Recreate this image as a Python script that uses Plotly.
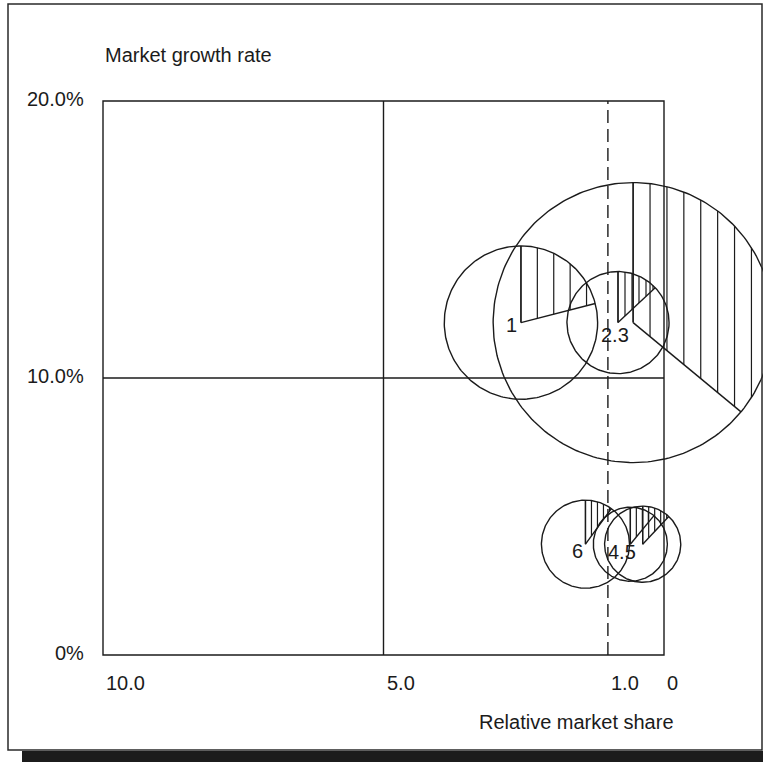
import numpy as np
import plotly.graph_objects as go

# ---------------- data ----------------
products = ["1", "2", "3", "4", "5", "6"]
relative_share = [2.55, 0.82, 0.55, 0.60, 0.38, 1.40]   # x (reversed axis)
market_growth = [12.0, 12.0, 12.0, 4.0, 4.0, 4.0]       # y, %
sales = [30.0, 13.3, 100.0, 7.0, 7.4, 9.9]              # bubble area
hatched_share = [0.21, 0.13, 0.36, 0.11, 0.12, 0.10]    # hatched slice of each bubble

x_ticks = [10.0, 5.0, 1.0, 0.0]
x_tick_text = ["10.0", "5.0", "1.0", "0"]
y_ticks = [20.0, 10.0, 0.0]
y_tick_text = ["20.0%", "10.0%", "0%"]

bubble_labels = ["1", "2.3", "4.5", "6"]
label_product = [0, 1, 3, 5]

# ---------------- styles ----------------
W, H = 763, 762
PLOT_L, PLOT_R, PLOT_T, PLOT_B = 103, 664, 101, 655
X_MAX, X_MIN = 10.0, 0.0
Y_MIN, Y_MAX = 0.0, 20.0
PX_X = (PLOT_R - PLOT_L) / (X_MAX - X_MIN)
PX_Y = (PLOT_B - PLOT_T) / (Y_MAX - Y_MIN)
# axis ranges spanning the full figure so bubbles are not clipped at the frame
X_RANGE = [X_MAX + PLOT_L / PX_X, X_MIN - (W - PLOT_R) / PX_X]
Y_RANGE = [Y_MIN - (H - PLOT_B) / PX_Y, Y_MAX + PLOT_T / PX_Y]

RADIUS_PER_SQRT = 14.0                      # px of radius per sqrt(sales)
hatch_spacing = [16.4, 7.0, 16.9, 6.0, 6.0, 6.0]
label_offsets = [(-9, -2), (-3, -12), (-8, -8), (-8, -7)]

INK = "#1b1b1b"
FONT = "Liberation Sans, Arial, Helvetica, sans-serif"
FS = 20
LW = 1.4


def to_data(cx, cy, dx, dy):
    """pixel offset (dx right, dy up) from a data point -> data coordinates"""
    return cx - dx / PX_X, cy + dy / PX_Y


fig = go.Figure()

circ_x, circ_y, edge_x, edge_y, hat_x, hat_y = [], [], [], [], [], []
t = np.linspace(0, 2 * np.pi, 241)
for cx, cy, s, frac, sp in zip(relative_share, market_growth, sales,
                               hatched_share, hatch_spacing):
    r = RADIUS_PER_SQRT * np.sqrt(s)
    xs, ys = to_data(cx, cy, r * np.cos(t), r * np.sin(t))
    circ_x += list(xs) + [None]
    circ_y += list(ys) + [None]

    th = 2 * np.pi * frac
    # slice edges: 12 o'clock radius and the clockwise closing radius
    for dx, dy in [(0.0, r), (r * np.sin(th), r * np.cos(th))]:
        x0, y0 = to_data(cx, cy, 0, 0)
        x1, y1 = to_data(cx, cy, dx, dy)
        edge_x += [x0, x1, None]
        edge_y += [y0, y1, None]

    # vertical hatching inside the slice
    cot = np.cos(th) / np.sin(th)
    for dx in np.arange(0.0, r, sp):
        top = np.sqrt(r * r - dx * dx)
        if th <= np.pi / 2:
            if dx > r * np.sin(th):
                continue
            bot = dx * cot
        else:
            bot = dx * cot if dx <= r * np.sin(th) else -top
        if top - bot < 0.5:
            continue
        xa, ya = to_data(cx, cy, dx, top)
        xb, yb = to_data(cx, cy, dx, bot)
        hat_x += [xa, xb, None]
        hat_y += [ya, yb, None]

fig.add_trace(go.Scatter(x=hat_x, y=hat_y, mode="lines",
                         line=dict(color=INK, width=1.2), hoverinfo="skip"))
fig.add_trace(go.Scatter(x=edge_x, y=edge_y, mode="lines",
                         line=dict(color=INK, width=LW), hoverinfo="skip"))
fig.add_trace(go.Scatter(x=circ_x, y=circ_y, mode="lines",
                         line=dict(color=INK, width=LW), hoverinfo="skip"))

# ---------------- matrix frame ----------------
line = dict(color=INK, width=LW)
fig.add_shape(type="rect", x0=X_MAX, x1=X_MIN, y0=Y_MIN, y1=Y_MAX, line=line,
              layer="below")
fig.add_shape(type="line", x0=5.0, x1=5.0, y0=Y_MIN, y1=Y_MAX, line=line,
              layer="below")
fig.add_shape(type="line", x0=X_MAX, x1=X_MIN, y0=10.0, y1=10.0, line=line,
              layer="below")
fig.add_shape(type="line", x0=1.0, x1=1.0, y0=Y_MIN, y1=Y_MAX,
              line=dict(color=INK, width=LW, dash="13px,6px"), layer="below")

# outer border and bottom bar
fig.add_shape(type="rect", xref="paper", yref="paper",
              x0=8 / W, x1=762 / W, y0=1 - 750 / H, y1=1 - 4 / H,
              line=dict(color="#2a2a2a", width=1.5))
fig.add_shape(type="rect", xref="paper", yref="paper",
              x0=22 / W, x1=1, y0=0, y1=1 - 751 / H,
              line=dict(width=0), fillcolor="#1c1c1c")

# ---------------- text ----------------
font = dict(family=FONT, size=FS, color=INK)
for v, txt in zip(x_ticks, x_tick_text):
    fig.add_annotation(x=v, y=Y_MIN, text=txt, showarrow=False, font=font,
                       xanchor="left", yanchor="middle", xshift=1, yshift=-28)
for v, txt in zip(y_ticks, y_tick_text):
    fig.add_annotation(x=X_MAX, y=v, text=txt, showarrow=False, font=font,
                       xanchor="right", yanchor="middle", xshift=-17, yshift=2)
for txt, idx, (dx, dy) in zip(bubble_labels, label_product, label_offsets):
    fig.add_annotation(x=relative_share[idx], y=market_growth[idx], text=txt,
                       showarrow=False, font=font, xanchor="center",
                       yanchor="middle", xshift=dx, yshift=dy)

fig.add_annotation(xref="paper", yref="paper", x=PLOT_L / W, y=1 - 55 / H,
                   text="Market growth rate", showarrow=False, font=font,
                   xanchor="left", yanchor="middle")
fig.add_annotation(xref="paper", yref="paper", x=676 / W, y=1 - 722 / H,
                   text="Relative market share", showarrow=False, font=font,
                   xanchor="right", yanchor="middle")

fig.update_layout(
    width=W, height=H,
    margin=dict(l=0, r=0, t=0, b=0),
    paper_bgcolor="white", plot_bgcolor="white",
    showlegend=False,
    xaxis=dict(range=X_RANGE, domain=[0, 1], visible=False, fixedrange=True),
    yaxis=dict(range=Y_RANGE, domain=[0, 1], visible=False, fixedrange=True),
)

fig.write_html("out.html", config={"displayModeBar": False})
